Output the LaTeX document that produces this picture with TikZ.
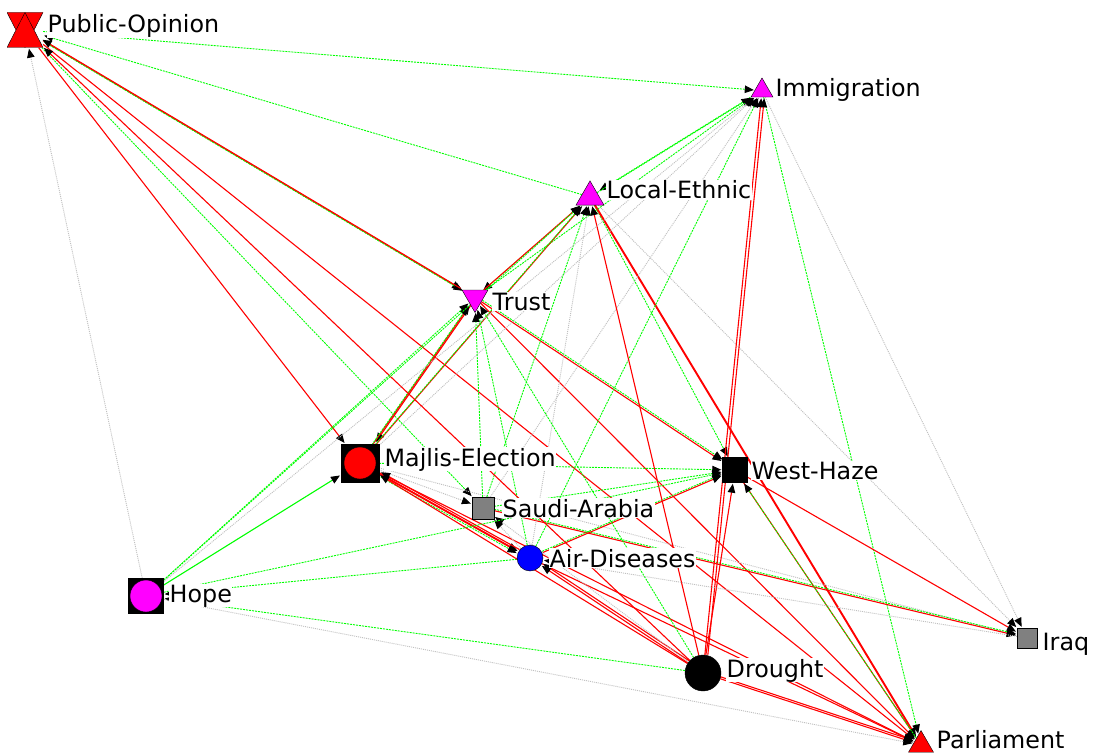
\documentclass[tikz,border=0pt]{standalone}
\usepackage{fontspec}
\setmainfont{DejaVu Sans}
\usetikzlibrary{arrows.meta, shapes.geometric, backgrounds}
\definecolor{silver}{RGB}{192,192,192}
\definecolor{boxgray}{RGB}{128,128,128}
\definecolor{pinkish}{RGB}{255,0,255}

\tikzset{
  redtie/.style={draw=red, line width=1.1pt},
  thickred/.style={draw=red, line width=1.9pt},
  greentie/.style={draw=green, line width=0.9pt, dash pattern=on 2pt off 1pt},
  greenline/.style={draw=green, line width=1.1pt},
  graytie/.style={draw=silver, line width=0.9pt, dash pattern=on 1pt off 1pt},
  uptri/.style={regular polygon, regular polygon sides=3, draw=black, fill=pinkish, inner sep=0pt},
  downtri/.style={uptri, shape border rotate=180},
  sqbox/.style={rectangle, draw=black, inner sep=0pt},
  disc/.style={circle, draw=black, inner sep=0pt},
  hourglass/.style={rectangle, inner sep=0pt, minimum width=36pt, minimum height=35pt,
    path picture={
      \filldraw[fill=red, draw=black] (path picture bounding box.north west) -- (path picture bounding box.north east) -- (path picture bounding box.south) -- cycle;
      \filldraw[fill=red, draw=black] (path picture bounding box.south west) -- (path picture bounding box.south east) -- (path picture bounding box.north) -- cycle;}},
  dotbox/.style={sqbox, fill=black, path picture={\filldraw[fill=#1, draw=black] (path picture bounding box.center) circle (16pt);}},
  lbl/.style={fill=white, inner sep=0.5pt, anchor=base west, font=\fontsize{23.8}{26}\selectfont}
}

\begin{document}
\begin{tikzpicture}[->,>={Triangle[black,length=9pt,width=7.5pt]},shorten >=1pt,x=1pt,y=-1pt]
  \useasboundingbox (0,0) rectangle (1094,754);
  % actors
  \node[hourglass] (opinion) at (25,30) {};
  \node[uptri, minimum size=25.4pt] (imm) at (762,90.7) {};
  \node[uptri, minimum size=32.3pt] (ethnic) at (590,197) {};
  \node[downtri, minimum size=30pt] (trust) at (475,297.5) {};
  \node[dotbox=red, minimum size=38pt] (majlis) at (360,463) {};
  \node[sqbox, fill=boxgray, minimum size=22pt] (saudi) at (483,508) {};
  \node[disc, fill=blue, minimum size=26pt] (air) at (530,558) {};
  \node[sqbox, fill=black, minimum size=25pt] (haze) at (735,470) {};
  \node[dotbox=pinkish, minimum size=35pt] (hope) at (146,596) {};
  \node[disc, fill=black, minimum size=36pt] (drought) at (703,673) {};
  \node[sqbox, fill=boxgray, minimum size=20pt] (iraq) at (1027,638) {};
  \node[uptri, fill=red, minimum size=28.9pt] (parl) at (921,745) {};

  % ties
  \begin{pgfonlayer}{background}
  \fill[white] (0,0) rectangle (1094,754);
  \path (opinion) edge[redtie] (trust)
                  edge[greentie, transform canvas={shift={(1.5pt,-1.5pt)}}] (trust)
                  edge[redtie] (majlis)
                  edge[redtie] (parl)
                  edge[greentie] (imm)
                  edge[greentie] (saudi);
  \path (imm) edge[greentie, transform canvas={shift={(1.5pt,1.5pt)}}] (ethnic)
              edge[greentie] (parl)
              edge[graytie] (iraq);
  \path (ethnic) edge[greentie] (opinion)
                 edge[greentie, transform canvas={shift={(-1.5pt,-1.5pt)}}] (trust)
                 edge[greentie] (haze)
                 edge[thickred] (parl)
                 edge[graytie] (iraq)
                 edge[greentie] (imm);
  \path (trust) edge[redtie, transform canvas={shift={(-1.5pt,1.5pt)}}] (opinion)
                edge[redtie] (ethnic)
                edge[greentie] (imm)
                edge[redtie, transform canvas={shift={(2pt,1pt)}}] (majlis)
                edge[redtie] (haze)
                edge[greentie, transform canvas={shift={(1pt,1.5pt)}}] (haze)
                edge[redtie] (parl);
  \path (majlis) edge[redtie] (trust)
                 edge[greentie, transform canvas={shift={(-1.5pt,-1pt)}}] (trust)
                 edge[redtie] (ethnic)
                 edge[greentie, transform canvas={shift={(-1.5pt,-1pt)}}] (ethnic)
                 edge[graytie] (imm)
                 edge[thickred] (air)
                 edge[greentie, transform canvas={shift={(-1pt,-2pt)}}] (air)
                 edge[graytie] (saudi)
                 edge[greentie] (haze)
                 edge[redtie] (parl)
                 edge[graytie] (iraq);
  \path (saudi) edge[greentie] (ethnic)
                edge[greentie] (trust)
                edge[graytie] (imm)
                edge[greentie] (haze)
                edge[redtie] (iraq)
                edge[greentie, transform canvas={shift={(0pt,1.5pt)}}] (iraq);
  \path (air) edge[redtie, transform canvas={shift={(1pt,2pt)}}] (majlis)
              edge[graytie] (ethnic)
              edge[greentie] (trust)
              edge[greentie] (imm)
              edge[graytie] (saudi)
              edge[redtie] (haze)
              edge[greentie, transform canvas={shift={(0pt,1.5pt)}}] (haze)
              edge[redtie] (parl)
              edge[greentie] (hope);
  \path (haze) edge[redtie] (iraq)
               edge[redtie] (parl);
  \path (drought) edge[redtie] (opinion)
                  edge[redtie] (majlis)
                  edge[redtie] (air)
                  edge[redtie, transform canvas={shift={(1.5pt,2pt)}}] (air)
                  edge[redtie] (ethnic)
                  edge[greentie] (trust)
                  edge[graytie] (saudi)
                  edge[greentie] (hope)
                  edge[redtie] (haze)
                  edge[redtie] (imm)
                  edge[redtie, transform canvas={shift={(3pt,0pt)}}] (imm)
                  edge[redtie] (parl)
                  edge[redtie, transform canvas={shift={(0pt,2pt)}}] (parl);
  \path (hope) edge[graytie] (opinion)
               edge[greentie] (trust)
               edge[greentie] (ethnic)
               edge[graytie] (imm)
               edge[greenline] (majlis)
               edge[greentie] (haze)
               edge[graytie] (parl);
  \path (iraq) edge[graytie] (air);
  \path (parl) edge[greentie] (haze);
  \end{pgfonlayer}

  % names
  \node[lbl] (opinionL) at (47,33) {Public-Opinion};
  \node[lbl] (immL) at (775,97) {Immigration};
  \node[lbl] (ethnicL) at (606,199) {Local-Ethnic};
  \node[lbl] (trustL) at (492,310) {Trust};
  \node[lbl] (majlisL) at (384,466) {Majlis-Election};
  \node[lbl] (saudiL) at (502,517) {Saudi-Arabia};
  \node[lbl] (airL) at (549,567) {Air-Diseases};
  \node[lbl] (hazeL) at (751,479) {West-Haze};
  \node[lbl] (hopeL) at (169,602) {Hope};
  \node[lbl] (droughtL) at (726,677) {Drought};
  \node[lbl] (iraqL) at (1042,650) {Iraq};
  \node[lbl] (parlL) at (936,748) {Parliament};
\end{tikzpicture}
\end{document}
